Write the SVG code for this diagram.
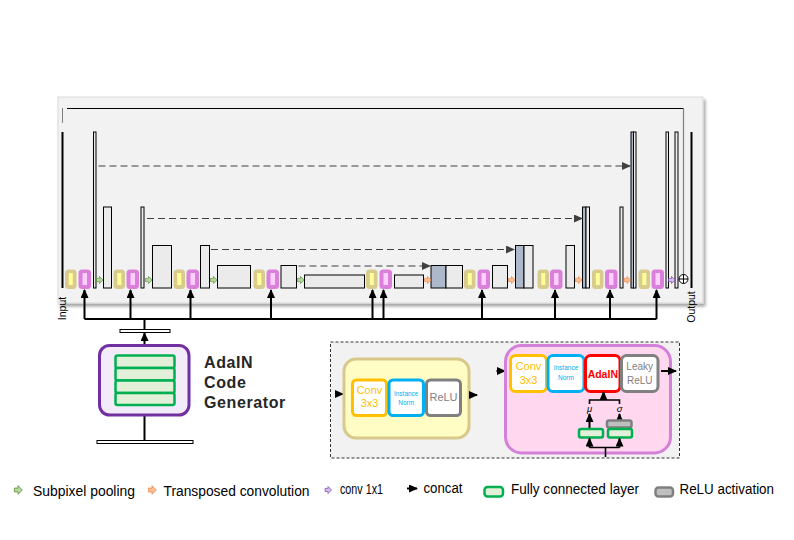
<svg xmlns="http://www.w3.org/2000/svg" width="794" height="540" viewBox="0 0 794 540">
<defs>
<style>
text{font-family:"Liberation Sans",Arial,sans-serif}
.blk{fill:#EBEBEB;stroke:#000;stroke-width:1}
.gb{fill:#ADB9CA;stroke:#000;stroke-width:1}
.dash{stroke:#404040;stroke-width:1.2;stroke-dasharray:7,4;fill:none;marker-end:url(#ad)}
.up{stroke:#000;stroke-width:2;fill:none;marker-end:url(#ab)}
.ln{stroke:#000;stroke-width:2;fill:none}
.ga{fill:#B4D79A;stroke:#548235;stroke-width:0.6}
.oa{fill:#F8C09A;stroke:#ED7D31;stroke-width:0.6}
.pa{fill:#D2BDF0;stroke:#7030A0;stroke-width:0.6}
.fc{fill:#E2F0D9;stroke:#00B050;stroke-width:2.5}
.relu{fill:#BFBFBF;stroke:#7F7F7F;stroke-width:2.5}
.wb{fill:#fff;stroke-width:3}
.leg{font-size:14px;fill:#000}
</style>
<marker id="ad" markerUnits="userSpaceOnUse" markerWidth="10" markerHeight="10" refX="8" refY="4" orient="auto"><path d="M0,0 L9,4 L0,8 z" fill="#404040"/></marker>
<marker id="ab" markerUnits="userSpaceOnUse" markerWidth="10" markerHeight="10" refX="8" refY="4" orient="auto"><path d="M0,0 L9,4 L0,8 z" fill="#000"/></marker>
<path id="ba" d="M-3,-1.6 H0 V-3.6 L3.6,0 L0,3.6 V1.6 H-3 Z"/>
<g id="pY"><rect x="0" y="0" width="11.5" height="19.5" rx="3.5" fill="#D9CB8E"/><rect x="3.8" y="3.5" width="4" height="12" fill="#FFFF99"/></g>
<g id="pP"><rect x="0" y="0" width="12.5" height="19.5" rx="3.5" fill="#DA80DB"/><rect x="4" y="3.5" width="4.5" height="12" fill="#FFD0FF"/></g>
<filter id="sh" x="-5%" y="-5%" width="110%" height="115%"><feDropShadow dx="2" dy="3" stdDeviation="1.5" flood-color="#000" flood-opacity="0.35"/></filter>
</defs>
<rect width="794" height="540" fill="#fff"/>

<g id="panel">
<rect x="58" y="97" width="645" height="206" fill="#F2F2F2" stroke="#D9D9D9" stroke-width="1" filter="url(#sh)"/>
</g>

<g id="residual">
<line x1="62.5" y1="108" x2="62.5" y2="123" stroke="#7F7F7F" stroke-width="1"/>
<polyline points="67,108.5 683.5,108.5" stroke="#000" stroke-width="1.2" fill="none"/>
<line x1="683.5" y1="108.5" x2="683.5" y2="275" stroke="#7F7F7F" stroke-width="1.2"/>
</g>

<g id="input"><line x1="62.5" y1="132" x2="62.5" y2="288" stroke="#000" stroke-width="2"/>
<text x="66" y="308.5" font-size="10.5" text-anchor="middle" transform="rotate(-90 66 308.5)">Input</text></g>
<g id="output"><line x1="691.5" y1="132" x2="691.5" y2="288" stroke="#000" stroke-width="2"/>
<text x="695" y="307" font-size="10.5" text-anchor="middle" transform="rotate(-90 695 307)">Output</text></g>

<g id="pills">
<use href="#pY" x="65" y="269.5"/><use href="#pP" x="78.5" y="269.5"/>
<use href="#pY" x="113.5" y="269.5"/><use href="#pP" x="126.5" y="269.5"/>
<use href="#pY" x="173.5" y="269.5"/><use href="#pP" x="186.5" y="269.5"/>
<use href="#pY" x="253.5" y="269.5"/><use href="#pP" x="266.5" y="269.5"/>
<use href="#pY" x="366" y="269.5"/><use href="#pP" x="379.5" y="269.5"/>
<use href="#pY" x="464" y="269.5"/><use href="#pP" x="477.5" y="269.5"/>
<use href="#pY" x="537.5" y="269.5"/><use href="#pP" x="550" y="269.5"/>
<use href="#pY" x="592" y="269.5"/><use href="#pP" x="605" y="269.5"/>
<use href="#pY" x="638.5" y="269.5"/><use href="#pP" x="651.5" y="269.5"/>
</g>

<g id="encoder">
<rect class="blk" x="93.5" y="132" width="2.5" height="156"/>
<rect class="blk" x="103.5" y="207" width="8" height="81"/>
<rect class="blk" x="141" y="207" width="3" height="81"/>
<rect class="blk" x="152.5" y="245.5" width="19" height="42.5"/>
<rect class="blk" x="200.5" y="245.5" width="9" height="42.5"/>
<rect class="blk" x="217.5" y="265.5" width="33" height="22.5"/>
<rect class="blk" x="281" y="265.5" width="15.5" height="22.5"/>
<rect class="blk" x="304.5" y="275" width="60" height="13"/>
<rect class="blk" x="394.5" y="275" width="29" height="13"/>
</g>

<g id="decoder">
<rect class="gb" x="431" y="265.5" width="15" height="22.5"/><rect class="blk" x="446" y="265.5" width="16.5" height="22.5"/>
<rect class="blk" x="492.5" y="265.5" width="15" height="22.5"/>
<rect class="gb" x="515.5" y="245.5" width="8.5" height="42.5"/><rect class="blk" x="524" y="245.5" width="9" height="42.5"/>
<rect class="blk" x="566" y="245.5" width="8.5" height="42.5"/>
<rect class="gb" x="582.5" y="207" width="3.5" height="81"/><rect class="blk" x="586" y="207" width="3.5" height="81"/>
<rect class="blk" x="620" y="207" width="3" height="81"/>
<rect class="gb" x="631" y="132" width="2.5" height="156"/><rect class="blk" x="633.5" y="132" width="2.5" height="156"/>
<rect class="blk" x="666" y="132" width="2.5" height="156"/>
<rect class="blk" x="675" y="132" width="3" height="156"/>
<g id="sum"><circle cx="683.5" cy="279" r="4.5" fill="#fff" stroke="#000" stroke-width="1"/><path d="M679,279 H688 M683.5,274.5 V283.5" stroke="#000" stroke-width="1"/></g>
</g>

<g id="ops">
<use href="#ba" class="ga" x="99.5" y="280"/>
<use href="#ba" class="ga" x="148.5" y="280"/>
<use href="#ba" class="ga" x="213.5" y="280"/>
<use href="#ba" class="ga" x="300.5" y="280"/>
<use href="#ba" class="oa" x="427.5" y="280"/>
<use href="#ba" class="oa" x="511.5" y="280"/>
<use href="#ba" class="oa" x="578.5" y="280"/>
<use href="#ba" class="oa" x="627" y="280"/>
<use href="#ba" class="pa" x="671.5" y="280"/>
</g>

<g id="connectors">
<line class="dash" x1="98.5" y1="166" x2="630" y2="166"/>
<line class="dash" x1="147" y1="218.5" x2="582" y2="218.5"/>
<line class="dash" x1="211" y1="249.5" x2="514" y2="249.5"/>
<line class="dash" x1="298.5" y1="266" x2="430" y2="266"/>
<line class="ln" x1="84.5" y1="319" x2="656.5" y2="319"/>
<line class="up" x1="84.5" y1="319" x2="84.5" y2="290"/>
<line class="up" x1="130.5" y1="319" x2="130.5" y2="290"/>
<line class="up" x1="190.5" y1="319" x2="190.5" y2="290"/>
<line class="up" x1="271" y1="319" x2="271" y2="290"/>
<line class="up" x1="372.5" y1="319" x2="372.5" y2="290"/>
<line class="up" x1="383.5" y1="319" x2="383.5" y2="290"/>
<line class="up" x1="482" y1="319" x2="482" y2="290"/>
<line class="up" x1="555" y1="319" x2="555" y2="290"/>
<line class="up" x1="610" y1="319" x2="610" y2="290"/>
<line class="up" x1="656.5" y1="319" x2="656.5" y2="290"/>
<line class="ln" x1="144.5" y1="318" x2="144.5" y2="329.5"/>
<line class="up" x1="144.5" y1="345" x2="144.5" y2="333"/>
<line class="up" x1="144.5" y1="440" x2="144.5" y2="406"/>
</g>

<g id="adain-generator">
<rect x="120" y="329.5" width="50" height="3" fill="#fff" stroke="#000" stroke-width="1"/>
<rect x="99.5" y="345.5" width="89.5" height="69.5" rx="10" fill="#F3EBFA" stroke="#7030A0" stroke-width="3"/>
<rect class="fc" x="115.5" y="355.5" width="59" height="12.5" rx="2"/>
<rect class="fc" x="115.5" y="368" width="59" height="12.5" rx="2"/>
<rect class="fc" x="115.5" y="380.5" width="59" height="12.5" rx="2"/>
<rect class="fc" x="115.5" y="393" width="59" height="12" rx="2"/>
<rect x="97" y="440.5" width="96" height="3" fill="#fff" stroke="#000" stroke-width="1"/>
<text x="204" y="368" font-size="16" font-weight="bold" fill="#262626" letter-spacing="0.6">AdaIN</text>
<text x="204" y="388" font-size="16" font-weight="bold" fill="#262626" letter-spacing="0.6">Code</text>
<text x="204" y="407.5" font-size="16" font-weight="bold" fill="#262626" letter-spacing="0.6">Generator</text>
</g>

<g id="blocks-frame">
<rect x="330.5" y="342" width="349" height="116" fill="#F2F2F2" stroke="#333" stroke-width="1" stroke-dasharray="3,2"/>
</g>

<g id="encoder-block">
<line class="up" x1="336" y1="394" x2="343" y2="394" stroke-width="1.6"/>
<rect x="344" y="359" width="125" height="79" rx="12" fill="#FFFDC4" stroke="#D8C98A" stroke-width="3"/>
<rect class="wb" x="352.5" y="380" width="34" height="35.5" rx="4" stroke="#FFC000"/>
<text x="369.5" y="394" font-size="11" fill="#FFC000" text-anchor="middle">Conv</text>
<text x="369.5" y="407" font-size="11" fill="#FFC000" text-anchor="middle">3x3</text>
<rect class="wb" x="389" y="380" width="34.5" height="35.5" rx="4" stroke="#00B0F0"/>
<text x="406.2" y="395.5" font-size="6.5" fill="#00B0F0" text-anchor="middle">Instance</text>
<text x="406.2" y="405" font-size="6.5" fill="#00B0F0" text-anchor="middle">Norm</text>
<rect class="wb" x="426.5" y="380" width="34" height="35.5" rx="4" stroke="#808080"/>
<text x="443.5" y="401" font-size="11" fill="#808080" text-anchor="middle">ReLU</text>
<line class="up" x1="469.5" y1="395" x2="477" y2="395" stroke-width="1.6"/>
</g>

<g id="decoder-block">
<line class="up" x1="496.5" y1="371" x2="505" y2="371" stroke-width="1.6"/>
<rect x="505.5" y="345.5" width="165" height="107.5" rx="16" fill="#FFD8F0" stroke="#D580D8" stroke-width="3"/>
<rect class="wb" x="510.5" y="355.5" width="36" height="36" rx="5" stroke="#FFC000"/>
<text x="528.5" y="370" font-size="11" fill="#FFC000" text-anchor="middle">Conv</text>
<text x="528.5" y="384" font-size="11" fill="#FFC000" text-anchor="middle">3x3</text>
<rect class="wb" x="548" y="355.5" width="36" height="36" rx="5" stroke="#00B0F0"/>
<text x="566" y="369.5" font-size="6.5" fill="#00B0F0" text-anchor="middle">Instance</text>
<text x="566" y="380" font-size="6.5" fill="#00B0F0" text-anchor="middle">Norm</text>
<rect class="wb" x="585.5" y="355.5" width="34.5" height="36" rx="5" stroke="#FF0000"/>
<text x="602.8" y="377.5" font-size="10.5" font-weight="bold" fill="#FF0000" text-anchor="middle">AdaIN</text>
<rect class="wb" x="621.5" y="355.5" width="36.5" height="36" rx="5" stroke="#808080"/>
<text x="639.7" y="370" font-size="10" fill="#808080" text-anchor="middle">Leaky</text>
<text x="639.7" y="383.5" font-size="10" fill="#808080" text-anchor="middle">ReLU</text>
<line class="up" x1="661" y1="371" x2="676" y2="371" stroke-width="1.6"/>
<g id="adain-params">
<path d="M589.5,404 V400 H619.5 V404" stroke="#000" stroke-width="1.6" fill="none"/>
<line class="up" x1="603.5" y1="400" x2="603.5" y2="392" stroke-width="1.6"/>
<text x="589.5" y="412" font-size="9.5" font-style="italic" text-anchor="middle" font-family="Liberation Serif, serif">μ</text>
<text x="619.5" y="412" font-size="9.5" font-style="italic" text-anchor="middle" font-family="Liberation Serif, serif">σ</text>
<line class="up" x1="589.5" y1="428" x2="589.5" y2="414" stroke-width="1.6"/>
<line class="up" x1="619.5" y1="420" x2="619.5" y2="414" stroke-width="1.6"/>
<rect class="relu" x="607" y="420.5" width="24.5" height="7" rx="2"/>
<rect class="fc" x="579" y="429" width="24" height="8.5" rx="2" stroke-width="2.2"/>
<rect class="fc" x="608" y="429" width="24" height="8.5" rx="2" stroke-width="2.2"/>
<path d="M605.5,457 V447.5 M589.5,447.5 H619.5" stroke="#000" stroke-width="1.6" fill="none"/>
<line class="up" x1="589.5" y1="447.5" x2="589.5" y2="438.5" stroke-width="1.6"/>
<line class="up" x1="619.5" y1="447.5" x2="619.5" y2="438.5" stroke-width="1.6"/>
</g>
</g>

<g id="legend">
<use href="#ba" class="ga" x="18" y="490" transform="translate(18 490) scale(1.2) translate(-18 -490)"/>
<text class="leg" x="33" y="495.5" textLength="102" lengthAdjust="spacingAndGlyphs">Subpixel pooling</text>
<use href="#ba" class="oa" x="152" y="490" transform="translate(152 490) scale(1.2) translate(-152 -490)"/>
<text class="leg" x="163.5" y="495.5" textLength="146" lengthAdjust="spacingAndGlyphs">Transposed convolution</text>
<use href="#ba" class="pa" x="328" y="490"/>
<text class="leg" x="340" y="493.5" font-size="13" textLength="43" lengthAdjust="spacingAndGlyphs">conv 1x1</text>
<line class="up" x1="407" y1="488.5" x2="417" y2="488.5" stroke-width="1.2"/>
<text class="leg" x="423.5" y="493" textLength="39" lengthAdjust="spacingAndGlyphs">concat</text>
<rect class="fc" x="484.5" y="487" width="18.5" height="9.5" rx="3"/>
<text class="leg" x="511" y="494" textLength="128" lengthAdjust="spacingAndGlyphs">Fully connected layer</text>
<rect class="relu" x="655.5" y="487.5" width="17.5" height="9" rx="3"/>
<text class="leg" x="679.5" y="494" textLength="94.5" lengthAdjust="spacingAndGlyphs">ReLU activation</text>
</g>
</svg>
